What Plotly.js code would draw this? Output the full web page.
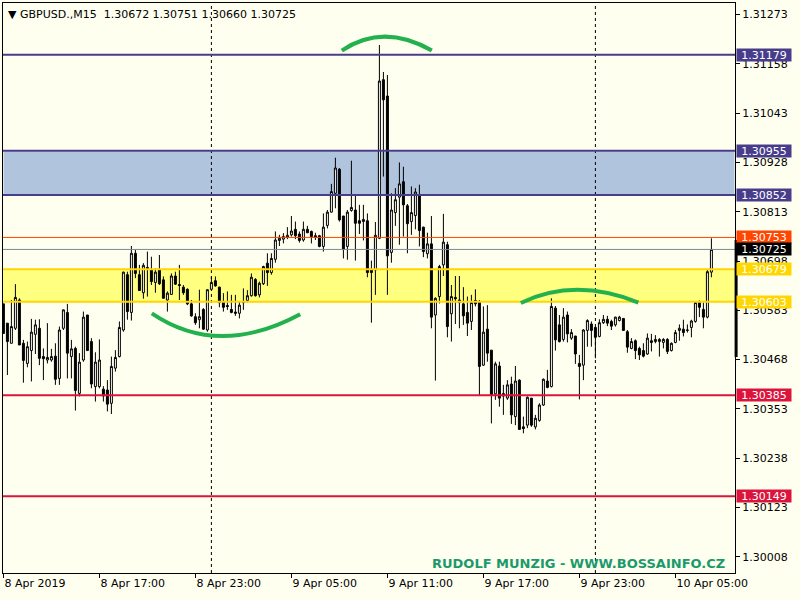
<!DOCTYPE html>
<html>
<head>
<meta charset="utf-8">
<script src="https://cdn.plot.ly/plotly-3.0.1.min.js"></script>
<style>html,body{margin:0;padding:0;background:#FFFFF0;}#chart{width:800px;height:600px;}</style>
</head>
<body>
<div id="chart"></div>
<script>
// ---- data (GBPUSD M15, bars from 8 Apr 2019 11:00) ----
const open = [1.30598,1.30553,1.30506,1.30541,1.30607,1.30506,1.30459,1.30489,1.30527,1.30541,
1.30475,1.30467,1.30467,1.30476,1.30424,1.30541,1.30578,1.30475,1.30494,1.30389,
1.30467,1.30572,1.30510,1.30405,1.30405,1.30399,1.30397,1.30366,1.30448,1.30475,
1.30537,1.30666,1.30578,1.30716,1.30666,1.30624,1.30683,1.30677,1.30648,1.30677,
1.30654,1.30607,1.30620,1.30663,1.30643,1.30637,1.30632,1.30598,1.30568,1.30561,
1.30585,1.30537,1.30632,1.30652,1.30637,1.30603,1.30594,1.30585,1.30579,1.30576,
1.30603,1.30606,1.30617,1.30655,1.30619,1.30645,1.30693,1.30671,1.30702,1.30746,
1.30749,1.30753,1.30759,1.30772,1.30761,1.30747,1.30772,1.30767,1.30757,1.30757,
1.30732,1.30781,1.30812,1.30856,1.30912,1.30803,1.30732,1.30816,1.30817,1.30792,
1.30790,1.30792,1.30677,1.30677,1.30751,1.31121,1.31083,1.30718,1.30811,1.30847,
1.30883,1.30827,1.30790,1.30804,1.30852,1.30777,1.30715,1.30738,1.30572,1.30615,
1.30689,1.30736,1.30575,1.30613,1.30607,1.30598,1.30578,1.30557,1.30606,1.30602,
1.30455,1.30539,1.30490,1.30388,1.30453,1.30383,1.30378,1.30411,1.30335,1.30420,
1.30311,1.30315,1.30378,1.30311,1.30326,1.30362,1.30418,1.30405,1.30588,1.30549,
1.30515,1.30572,1.30518,1.30523,1.30459,1.30455,1.30536,1.30551,1.30543,1.30522,
1.30554,1.30562,1.30557,1.30549,1.30559,1.30564,1.30533,1.30494,1.30512,1.30494,
1.30489,1.30481,1.30512,1.30510,1.30510,1.30508,1.30515,1.30489,1.30508,1.30536,
1.30539,1.30536,1.30543,1.30557,1.30601,1.30585,1.30567,1.30672];

const high = [1.30598,1.30553,1.30607,1.30644,1.30611,1.30514,1.30510,1.30563,1.30561,1.30562,
1.30494,1.30553,1.30493,1.30506,1.30545,1.30585,1.30598,1.30514,1.30498,1.30483,
1.30580,1.30572,1.30518,1.30485,1.30515,1.30406,1.30420,1.30475,1.30490,1.30557,
1.30673,1.30673,1.30733,1.30724,1.30689,1.30693,1.30720,1.30708,1.30681,1.30712,
1.30662,1.30627,1.30669,1.30673,1.30689,1.30642,1.30634,1.30607,1.30576,1.30631,
1.30588,1.30632,1.30662,1.30662,1.30638,1.30623,1.30627,1.30619,1.30619,1.30603,
1.30634,1.30630,1.30669,1.30658,1.30650,1.30687,1.30716,1.30716,1.30767,1.30759,
1.30763,1.30777,1.30803,1.30790,1.30767,1.30790,1.30780,1.30769,1.30764,1.30759,
1.30809,1.30817,1.30878,1.30939,1.30915,1.30803,1.30817,1.30932,1.30852,1.30829,
1.30829,1.30809,1.30699,1.30789,1.31202,1.31139,1.31132,1.30856,1.30868,1.30928,
1.30918,1.30831,1.30872,1.30868,1.30876,1.30778,1.30764,1.30803,1.30613,1.30689,
1.30808,1.30743,1.30642,1.30663,1.30663,1.30637,1.30615,1.30619,1.30632,1.30607,
1.30592,1.30595,1.30490,1.30463,1.30463,1.30409,1.30420,1.30428,1.30453,1.30422,
1.30335,1.30382,1.30378,1.30339,1.30366,1.30424,1.30444,1.30611,1.30593,1.30572,
1.30588,1.30580,1.30539,1.30523,1.30479,1.30539,1.30562,1.30557,1.30545,1.30562,
1.30572,1.30570,1.30561,1.30568,1.30570,1.30564,1.30537,1.30518,1.30515,1.30498,
1.30506,1.30529,1.30528,1.30525,1.30518,1.30518,1.30518,1.30508,1.30537,1.30550,
1.30561,1.30550,1.30561,1.30603,1.30606,1.30601,1.30677,1.30751];

const low = [1.30529,1.30432,1.30506,1.30537,1.30502,1.30414,1.30450,1.30417,1.30481,1.30455,
1.30420,1.30459,1.30463,1.30409,1.30409,1.30537,1.30424,1.30424,1.30349,1.30382,
1.30463,1.30489,1.30401,1.30370,1.30401,1.30370,1.30347,1.30341,1.30440,1.30473,
1.30533,1.30561,1.30559,1.30658,1.30629,1.30610,1.30615,1.30642,1.30624,1.30642,
1.30611,1.30580,1.30619,1.30642,1.30607,1.30619,1.30595,1.30568,1.30549,1.30541,
1.30537,1.30533,1.30631,1.30638,1.30590,1.30580,1.30584,1.30576,1.30570,1.30564,
1.30584,1.30601,1.30615,1.30615,1.30613,1.30642,1.30640,1.30666,1.30694,1.30733,
1.30739,1.30749,1.30755,1.30749,1.30741,1.30743,1.30763,1.30739,1.30747,1.30730,
1.30720,1.30774,1.30811,1.30821,1.30790,1.30704,1.30701,1.30813,1.30699,1.30761,
1.30746,1.30660,1.30554,1.30619,1.30749,1.30895,1.30619,1.30694,1.30780,1.30736,
1.30755,1.30716,1.30759,1.30772,1.30732,1.30707,1.30704,1.30541,1.30419,1.30599,
1.30663,1.30520,1.30510,1.30551,1.30541,1.30549,1.30523,1.30537,1.30592,1.30383,
1.30453,1.30463,1.30319,1.30374,1.30358,1.30339,1.30374,1.30318,1.30315,1.30305,
1.30296,1.30308,1.30311,1.30305,1.30323,1.30360,1.30401,1.30403,1.30489,1.30508,
1.30510,1.30508,1.30514,1.30458,1.30375,1.30420,1.30498,1.30498,1.30471,1.30520,
1.30551,1.30546,1.30537,1.30545,1.30557,1.30536,1.30484,1.30492,1.30469,1.30467,
1.30473,1.30479,1.30487,1.30506,1.30475,1.30494,1.30481,1.30487,1.30506,1.30512,
1.30522,1.30531,1.30520,1.30554,1.30567,1.30541,1.30564,1.30660];

const close = [1.30529,1.30510,1.30545,1.30613,1.30502,1.30466,1.30498,1.30532,1.30549,1.30471,
1.30470,1.30473,1.30475,1.30422,1.30537,1.30584,1.30483,1.30493,1.30396,1.30462,
1.30567,1.30489,1.30411,1.30462,1.30467,1.30383,1.30364,1.30452,1.30473,1.30543,
1.30672,1.30580,1.30716,1.30669,1.30629,1.30688,1.30680,1.30650,1.30672,1.30645,
1.30611,1.30623,1.30663,1.30644,1.30641,1.30624,1.30598,1.30570,1.30554,1.30568,
1.30539,1.30631,1.30648,1.30640,1.30601,1.30590,1.30592,1.30578,1.30576,1.30595,
1.30601,1.30617,1.30660,1.30617,1.30646,1.30685,1.30671,1.30704,1.30747,1.30751,
1.30755,1.30758,1.30768,1.30757,1.30746,1.30772,1.30764,1.30755,1.30753,1.30732,
1.30777,1.30812,1.30860,1.30915,1.30794,1.30725,1.30812,1.30823,1.30786,1.30786,
1.30795,1.30671,1.30671,1.30758,1.31118,1.31074,1.30710,1.30817,1.30841,1.30878,
1.30829,1.30785,1.30811,1.30859,1.30769,1.30720,1.30738,1.30567,1.30611,1.30685,
1.30742,1.30545,1.30615,1.30610,1.30601,1.30570,1.30553,1.30601,1.30598,1.30452,
1.30532,1.30483,1.30385,1.30458,1.30378,1.30389,1.30409,1.30339,1.30418,1.30305,
1.30307,1.30380,1.30315,1.30331,1.30362,1.30422,1.30403,1.30592,1.30514,1.30510,
1.30567,1.30528,1.30531,1.30481,1.30452,1.30537,1.30559,1.30536,1.30520,1.30554,
1.30562,1.30553,1.30546,1.30567,1.30567,1.30536,1.30497,1.30510,1.30489,1.30479,
1.30476,1.30518,1.30508,1.30515,1.30515,1.30515,1.30487,1.30506,1.30531,1.30541,
1.30531,1.30537,1.30558,1.30601,1.30590,1.30567,1.30673,1.30725];

const timeTickBars = [0, 24, 48, 72, 96, 120, 144, 168];
const timeTickLabels = ["8 Apr 2019", "8 Apr 17:00", "8 Apr 23:00", "9 Apr 05:00",
                        "9 Apr 11:00", "9 Apr 17:00", "9 Apr 23:00", "10 Apr 05:00"];
const priceTicks = [1.31273, 1.31158, 1.31043, 1.30928, 1.30813, 1.30698,
                    1.30583, 1.30468, 1.30353, 1.30238, 1.30123, 1.30008];
const daySeparatorBars = [52, 148];           // 9 Apr 00:00, 10 Apr 00:00
const resistanceLine = [1.31179];
const blueZone = [1.30852, 1.30955];
const yellowZone = [1.30603, 1.30679];
const askHigh = [1.30753];
const bidLine = [1.30725];
const supportLines = [1.30385, 1.30149];
const headerText = "\u25BC GBPUSD.,M15 \u00A01.30672 1.30751 1.30660 1.30725";
const watermark = "RUDOLF MUNZIG - WWW.BOSSAINFO.CZ";
// hand-drawn arcs: [startBar, startPrice, ctrlBar, ctrlPrice, endBar, endPrice]
const arcs = [
  [84.6, 1.31189, 95.0, 1.31254, 107.1, 1.31189],
  [37.1, 1.30576, 53.7, 1.30471, 74.2, 1.30574],
  [129.35, 1.30600, 142.8, 1.30661, 158.75, 1.30601]
];

// ---- styles ----
const BG = "#FFFFF0";
const FONT = "DejaVu Sans";
const C_SLATE = "#483D8B", C_STEEL = "#B0C4DE", C_GOLD = "#FFD700", C_YEL = "#FFFF80";
const C_ORANGE = "#FF4500", C_BID = "#778899", C_CRIMSON = "#DC143C", C_ARC = "#22B14C";

const bars = open.map((_, i) => i);

const trace = {
  type: "candlestick",
  x: bars, open: open, high: high, low: low, close: close,
  increasing: {line: {color: "#000000", width: 1}, fillcolor: "#FFFFFF"},
  decreasing: {line: {color: "#000000", width: 1}, fillcolor: "#000000"},
  whiskerwidth: 0,
  showlegend: false,
  hoverinfo: "x+y"
};

const shapes = [];
function hline(y, color, width, layer) {
  shapes.push({type: "line", xref: "paper", x0: 0, x1: 1, yref: "y", y0: y, y1: y,
               line: {color: color, width: width}, layer: layer || "above"});
}
shapes.push({type: "rect", xref: "paper", x0: 0, x1: 1, yref: "y", y0: blueZone[0], y1: blueZone[1],
             fillcolor: C_STEEL, line: {color: "#FFFFFF", width: 1}, layer: "below"});
shapes.push({type: "rect", xref: "paper", x0: 0, x1: 1, yref: "y", y0: yellowZone[0], y1: yellowZone[1],
             fillcolor: C_YEL, line: {width: 0}, layer: "below"});
daySeparatorBars.forEach(b => shapes.push({type: "line", xref: "x", x0: b, x1: b, yref: "paper", y0: 0, y1: 1,
             line: {color: "#000000", width: 1, dash: "3px,3px"}, layer: "below"}));
resistanceLine.forEach(v => hline(v, C_SLATE, 2));
blueZone.forEach(v => hline(v, C_SLATE, 2));
yellowZone.forEach(v => hline(v, C_GOLD, 2));
askHigh.forEach(v => hline(v, C_ORANGE, 1));
bidLine.forEach(v => hline(v, C_BID, 1));
supportLines.forEach(v => hline(v, C_CRIMSON, 2));
arcs.forEach(a => shapes.push({type: "path", xref: "x", yref: "y",
  path: `M ${a[0]},${a[1]} Q ${a[2]},${a[3]} ${a[4]},${a[5]}`,
  line: {color: C_ARC, width: 4}, layer: "above"}));
// current-bar marker on price scale edge
shapes.push({type: "line", xref: "paper", x0: 1.0015, x1: 1.0015, yref: "y", y0: 1.30474, y1: 1.30747,
             line: {color: "#000000", width: 3}});

const annotations = [];
function priceLabel(v, bg) {
  annotations.push({xref: "paper", x: 1, xanchor: "left", xshift: 1, yref: "y", y: v, yanchor: "middle",
    text: v.toFixed(5), showarrow: false, bgcolor: bg, width: 54, height: 12, borderpad: 0,
    font: {family: FONT, size: 11, color: "#FFFFFF"}, align: "center"});
}
resistanceLine.forEach(v => priceLabel(v, C_SLATE));
blueZone.forEach(v => priceLabel(v, C_SLATE));
askHigh.forEach(v => priceLabel(v, C_ORANGE));
bidLine.forEach(v => priceLabel(v, "#000000"));
yellowZone.forEach(v => priceLabel(v, C_GOLD));
supportLines.forEach(v => priceLabel(v, C_CRIMSON));
annotations.push({xref: "paper", x: 0, xanchor: "left", xshift: 3, yref: "paper", y: 1, yanchor: "top", yshift: -3,
  text: headerText, showarrow: false, font: {family: FONT, size: 11, color: "#000000"}});
annotations.push({xref: "paper", x: 0.989, xanchor: "right", yref: "paper", y: 0.0175, yanchor: "middle",
  text: "<b>" + watermark + "</b>", showarrow: false, font: {family: FONT, size: 13, color: "#1A9A6C"}});

const layout = {
  width: 800, height: 600,
  margin: {l: 3, r: 65, t: 3, b: 27, pad: 0},
  paper_bgcolor: BG, plot_bgcolor: BG,
  font: {family: FONT, size: 11, color: "#000000"},
  showlegend: false,
  xaxis: {
    type: "linear", range: [-0.1, 182.9], rangeslider: {visible: false},
    tickmode: "array", tickvals: timeTickBars, ticktext: timeTickLabels,
    ticks: "outside", ticklen: 4, tickcolor: "#000000",
    ticklabelposition: "outside right",
    showgrid: false, zeroline: false, showline: true, mirror: true, linecolor: "#000000", linewidth: 1,
    tickfont: {family: FONT, size: 11, color: "#000000"}
  },
  yaxis: {
    side: "right", range: [1.29970, 1.31300],
    tickmode: "array", tickvals: priceTicks, ticktext: priceTicks.map(v => v.toFixed(5)),
    ticks: "outside", ticklen: 4, tickcolor: "#000000",
    showgrid: false, zeroline: false, showline: true, mirror: true, linecolor: "#000000", linewidth: 1,
    tickfont: {family: FONT, size: 11, color: "#000000"}
  },
  shapes: shapes,
  annotations: annotations
};

Plotly.newPlot("chart", [trace], layout, {staticPlot: true, displayModeBar: false});
</script>
</body>
</html>
